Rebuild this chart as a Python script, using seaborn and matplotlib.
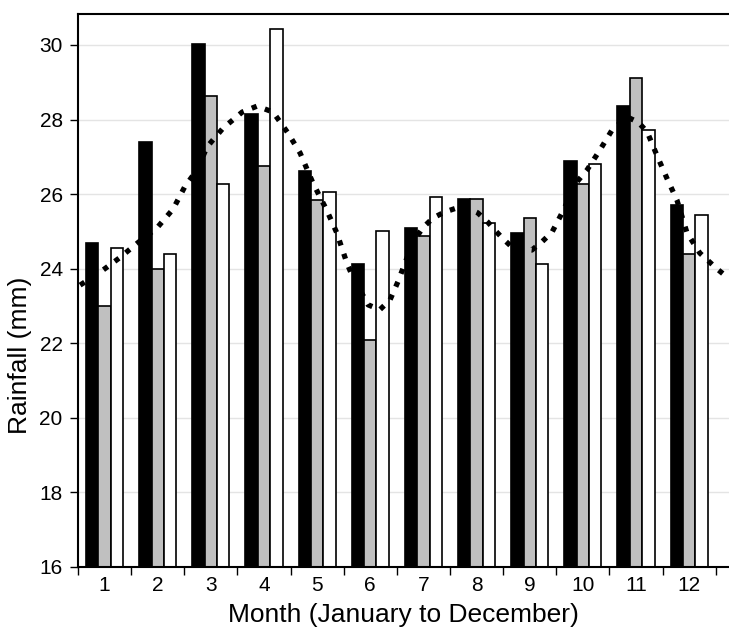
import numpy as np
import pandas as pd
import matplotlib
matplotlib.use("Agg")
import matplotlib.pyplot as plt
import seaborn as sns

# 월별 강수량 (세 시리즈)
months = [str(m) for m in range(1, 13)]
series_a = [24.68, 27.39, 30.03, 28.16, 26.63, 24.13, 25.10, 25.86, 24.96, 26.90, 28.36, 25.72]
series_b = [23.01, 23.98, 28.63, 26.76, 25.85, 22.09, 24.88, 25.86, 25.36, 26.28, 29.12, 24.39]
series_c = [24.55, 24.39, 26.28, 30.43, 26.06, 25.02, 25.92, 25.22, 24.12, 26.82, 27.73, 25.44]

# 점선 추세 곡선 (x = 월 인덱스, 0 = 1월)
trend_x = [-0.46, -0.09, 0.29, 0.63, 0.99, 1.29, 1.51, 1.74, 1.93, 2.23, 2.59, 2.87,
           3.17, 3.45, 3.68, 3.92, 4.18, 4.37, 4.56, 4.67, 4.96, 5.18, 5.37, 5.52,
           5.80, 5.99, 6.18, 6.40, 6.63, 6.82, 7.02, 7.21, 7.34, 7.50, 7.68, 8.04,
           8.23, 8.42, 8.61, 8.89, 9.08, 9.32, 9.55, 9.83, 10.04, 10.21, 10.39,
           10.58, 10.77, 10.96, 11.20, 11.52, 11.71]
trend_y = [23.56, 23.90, 24.30, 24.70, 25.10, 25.60, 26.20, 26.65, 27.27, 27.77, 28.20, 28.36,
           28.20, 27.64, 27.10, 26.30, 25.57, 24.96, 24.15, 23.78, 23.03, 22.90, 23.16, 23.65,
           24.70, 25.10, 25.36, 25.52, 25.63, 25.63, 25.50, 25.25, 25.04, 24.80, 24.56, 24.50,
           24.72, 24.98, 25.50, 26.33, 26.65, 27.18, 27.72, 28.07, 27.93, 27.67, 27.05,
           26.43, 25.84, 24.96, 24.42, 24.00, 23.78]

df = pd.DataFrame({
    "month": months * 3,
    "rain": series_a + series_b + series_c,
    "series": ["A"] * 12 + ["B"] * 12 + ["C"] * 12,
})
trend = pd.DataFrame({"x": trend_x, "y": trend_y})

sns.set_style("white")
plt.rcParams["font.family"] = ["Liberation Sans", "DejaVu Sans"]
plt.rcParams["text.color"] = "black"
plt.rcParams["axes.labelcolor"] = "black"
plt.rcParams["xtick.color"] = "black"
plt.rcParams["ytick.color"] = "black"

fig = plt.figure(figsize=(7.29, 6.35), dpi=100)
ax = fig.add_axes([78 / 729, 1 - 567 / 635, 1 - 78 / 729, (567 - 14) / 635])

sns.barplot(data=df, x="month", y="rain", hue="series",
            palette=["black", "#c0c0c0", "white"], edgecolor="black", linewidth=1.2,
            width=0.7, gap=0, legend=False, ax=ax)
sns.lineplot(data=trend, x="x", y="y", color="black", linestyle=":", linewidth=3.8, ax=ax)

ax.set_ylim(16, 30.83)
ax.set_xlim(-0.5, 11.75)
ax.set_yticks(np.arange(16, 31, 2))
ax.yaxis.grid(True, color="#e4e4e4", linewidth=1)
ax.set_axisbelow(True)

ax.set_xticks(np.arange(-0.5, 12, 1), minor=True)
ax.tick_params(axis="x", which="major", length=0, labelsize=15, pad=6.5)
ax.tick_params(axis="x", which="minor", length=6, width=1, direction="out", bottom=True)
ax.tick_params(axis="y", length=6, width=1, direction="out", left=True, labelsize=15, pad=5)

for side in ["left", "top", "bottom"]:
    ax.spines[side].set_color("black")
    ax.spines[side].set_linewidth(1.5)
ax.spines["right"].set_visible(False)

ax.set_xlabel("Month (January to December)", fontsize=19, labelpad=6)
ax.set_ylabel("Rainfall (mm)", fontsize=19)
ax.yaxis.set_label_coords(-0.07, 0.383)

fig.savefig("out.png", dpi=100)
plt.close()
